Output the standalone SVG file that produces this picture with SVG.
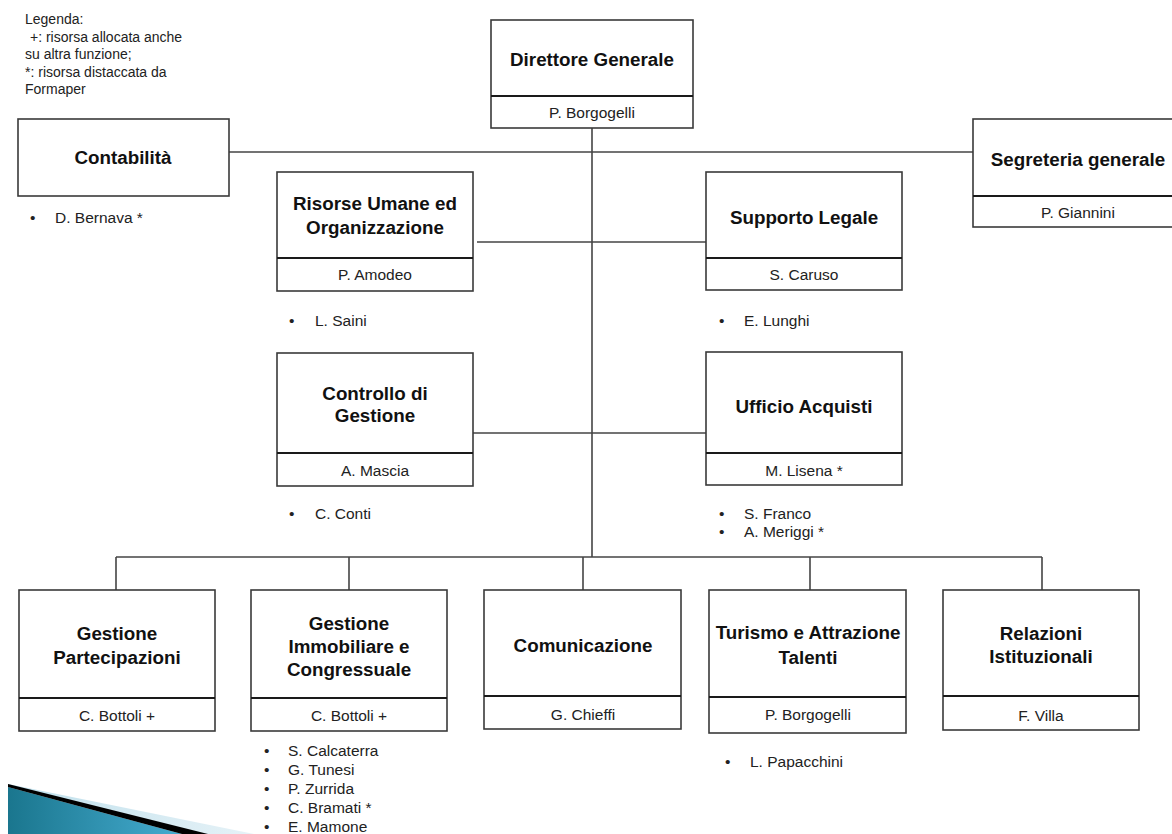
<svg xmlns="http://www.w3.org/2000/svg" width="1172" height="834" viewBox="0 0 1172 834">
<defs>
<linearGradient id="blueG" x1="0" y1="0" x2="1" y2="0">
<stop offset="0" stop-color="#1a768e"/>
<stop offset="1" stop-color="#45acd0"/>
</linearGradient>
<linearGradient id="lightG" x1="0" y1="0" x2="1" y2="0">
<stop offset="0" stop-color="#bfe0ec"/>
<stop offset="1" stop-color="#e6f2f7"/>
</linearGradient>
</defs>
<style>
.box{fill:#fff;stroke:#3a3a3a;stroke-width:1.6}
.div{stroke:#1a1a1a;stroke-width:2}
.conn{stroke:#444;stroke-width:1.6;fill:none}
.t{font-family:"Liberation Sans",Arial,sans-serif;font-weight:bold;font-size:18.8px;fill:#111;text-anchor:middle}
.n{font-family:"Liberation Sans",Arial,sans-serif;font-size:15.5px;fill:#222;text-anchor:middle}
.b{font-family:"Liberation Sans",Arial,sans-serif;font-size:15.5px;fill:#222}
.lg{font-family:"Liberation Sans",Arial,sans-serif;font-size:14px;fill:#222}
</style>
<rect width="1172" height="834" fill="#fff"/>

<g id="decoration">
<polygon points="8,784 254,834 8,834" fill="url(#lightG)"/>
<polygon points="8,787 182,834 8,834" fill="url(#blueG)"/>
<polygon points="8,784 208,834 182,834 8,787" fill="#000"/>
</g>

<g id="legend">
<text class="lg" x="25" y="24">Legenda:</text>
<text class="lg" x="30" y="42">+: risorsa allocata anche</text>
<text class="lg" x="25" y="59">su altra funzione;</text>
<text class="lg" x="25" y="77">*: risorsa distaccata da</text>
<text class="lg" x="25" y="94">Formaper</text>
</g>

<g id="connectors">
<line class="conn" x1="592" y1="128" x2="592" y2="557"/>
<line class="conn" x1="229" y1="152" x2="973" y2="152"/>
<line class="conn" x1="477" y1="242" x2="706" y2="242"/>
<line class="conn" x1="473" y1="433" x2="710" y2="433"/>
<line class="conn" x1="116" y1="557" x2="1042" y2="557"/>
<line class="conn" x1="116" y1="557" x2="116" y2="590"/>
<line class="conn" x1="349" y1="557" x2="349" y2="590"/>
<line class="conn" x1="583" y1="557" x2="583" y2="590"/>
<line class="conn" x1="810" y1="557" x2="810" y2="590"/>
<line class="conn" x1="1042" y1="557" x2="1042" y2="590"/>
</g>

<g id="direttore">
<rect class="box" x="491" y="20" width="202" height="108"/>
<line class="div" x1="491" y1="96" x2="693" y2="96"/>
<text class="t" x="592" y="66">Direttore Generale</text>
<text class="n" x="592" y="117.5">P. Borgogelli</text>
</g>

<g id="contabilita">
<rect class="box" x="18" y="119" width="211" height="77"/>
<text class="t" x="123" y="164">Contabilità</text>
<text class="b" x="30" y="223">•</text>
<text class="b" x="55" y="223">D. Bernava *</text>
</g>

<g id="segreteria">
<rect class="box" x="973" y="119" width="210" height="108"/>
<line class="div" x1="973" y1="196" x2="1183" y2="196"/>
<text class="t" x="1078" y="166">Segreteria generale</text>
<text class="n" x="1078" y="217.5">P. Giannini</text>
</g>

<g id="risorse-umane">
<rect class="box" x="277" y="172" width="196" height="119"/>
<line class="div" x1="277" y1="258" x2="473" y2="258"/>
<text class="t" x="375" y="210">Risorse Umane ed</text>
<text class="t" x="375" y="234">Organizzazione</text>
<text class="n" x="375" y="279.5">P. Amodeo</text>
<text class="b" x="289" y="325.5">•</text>
<text class="b" x="315" y="325.5">L. Saini</text>
</g>

<g id="supporto-legale">
<rect class="box" x="706" y="172" width="196" height="118"/>
<line class="div" x1="706" y1="258" x2="902" y2="258"/>
<text class="t" x="804" y="224">Supporto Legale</text>
<text class="n" x="804" y="279.5">S. Caruso</text>
<text class="b" x="719" y="325.5">•</text>
<text class="b" x="744" y="325.5">E. Lunghi</text>
</g>

<g id="controllo-gestione">
<rect class="box" x="277" y="353" width="196" height="133"/>
<line class="div" x1="277" y1="453" x2="473" y2="453"/>
<text class="t" x="375" y="400">Controllo di</text>
<text class="t" x="375" y="422">Gestione</text>
<text class="n" x="375" y="475.5">A. Mascia</text>
<text class="b" x="289" y="518.5">•</text>
<text class="b" x="315" y="518.5">C. Conti</text>
</g>

<g id="ufficio-acquisti">
<rect class="box" x="706" y="352" width="196" height="133"/>
<line class="div" x1="706" y1="453" x2="902" y2="453"/>
<text class="t" x="804" y="413">Ufficio Acquisti</text>
<text class="n" x="804" y="475.5">M. Lisena *</text>
<text class="b" x="719" y="518.5">•</text>
<text class="b" x="744" y="518.5">S. Franco</text>
<text class="b" x="719" y="537">•</text>
<text class="b" x="744" y="537">A. Meriggi *</text>
</g>

<g id="gestione-partecipazioni">
<rect class="box" x="19" y="590" width="196" height="141"/>
<line class="div" x1="19" y1="698" x2="215" y2="698"/>
<text class="t" x="117" y="640">Gestione</text>
<text class="t" x="117" y="664">Partecipazioni</text>
<text class="n" x="117" y="720.5">C. Bottoli +</text>
</g>

<g id="gestione-immobiliare">
<rect class="box" x="251" y="590" width="196" height="141"/>
<line class="div" x1="251" y1="698" x2="447" y2="698"/>
<text class="t" x="349" y="630">Gestione</text>
<text class="t" x="349" y="653">Immobiliare e</text>
<text class="t" x="349" y="676">Congressuale</text>
<text class="n" x="349" y="720.5">C. Bottoli +</text>
<text class="b" x="264" y="755.5">•</text>
<text class="b" x="288" y="755.5">S. Calcaterra</text>
<text class="b" x="264" y="774.5">•</text>
<text class="b" x="288" y="774.5">G. Tunesi</text>
<text class="b" x="264" y="793.5">•</text>
<text class="b" x="288" y="793.5">P. Zurrida</text>
<text class="b" x="264" y="812.5">•</text>
<text class="b" x="288" y="812.5">C. Bramati *</text>
<text class="b" x="264" y="831.5">•</text>
<text class="b" x="288" y="831.5">E. Mamone</text>
</g>

<g id="comunicazione">
<rect class="box" x="484" y="590" width="197" height="139"/>
<line class="div" x1="484" y1="696" x2="681" y2="696"/>
<text class="t" x="583" y="652">Comunicazione</text>
<text class="n" x="583" y="719.5">G. Chieffi</text>
</g>

<g id="turismo">
<rect class="box" x="709" y="590" width="197" height="143"/>
<line class="div" x1="709" y1="697" x2="906" y2="697"/>
<text class="t" x="808" y="639">Turismo e Attrazione</text>
<text class="t" x="808" y="664">Talenti</text>
<text class="n" x="808" y="719.5">P. Borgogelli</text>
<text class="b" x="725" y="766.5">•</text>
<text class="b" x="750" y="766.5">L. Papacchini</text>
</g>

<g id="relazioni">
<rect class="box" x="943" y="590" width="196" height="140"/>
<line class="div" x1="943" y1="696" x2="1139" y2="696"/>
<text class="t" x="1041" y="640">Relazioni</text>
<text class="t" x="1041" y="663">Istituzionali</text>
<text class="n" x="1041" y="720.5">F. Villa</text>
</g>
</svg>
